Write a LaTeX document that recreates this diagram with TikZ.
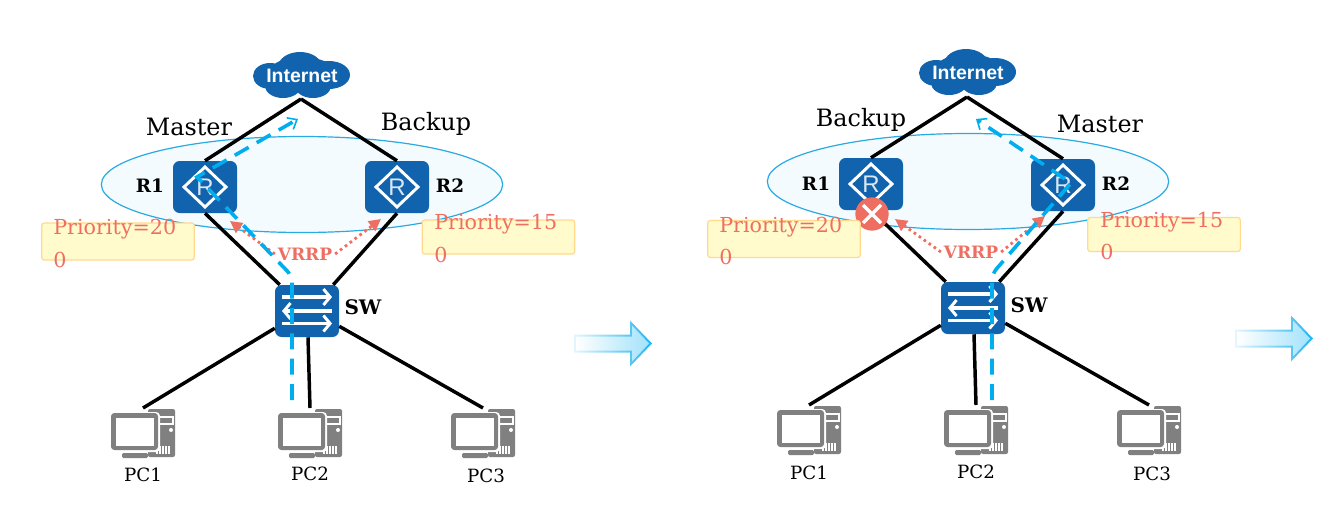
\documentclass[tikz,border=0pt]{standalone}
\usepackage{fontspec}
\setmainfont{DejaVu Serif}
\newfontfamily\iconfont{Liberation Sans}
\usepackage{tikz}
\usetikzlibrary{arrows.meta,positioning,calc,shapes.geometric}
\definecolor{netblue}{HTML}{1063AC}
\definecolor{flowblue}{HTML}{00AEEF}
\definecolor{ringblue}{HTML}{29ABE2}
\definecolor{ringfill}{HTML}{F3FBFF}
\definecolor{salmon}{HTML}{EE6F62}
\definecolor{prioyellow}{HTML}{FFFBCC}
\definecolor{prioedge}{HTML}{FFD98C}
\definecolor{pcgray}{HTML}{808080}
\definecolor{arrowedge}{HTML}{22B5F0}
\definecolor{arrowfill}{HTML}{A4E2FB}
\tikzset{
    cloudicon/.pic={
        \fill[netblue] (-32,1) ellipse [x radius=17,y radius=13];
        \fill[netblue] (-2,-8) ellipse [x radius=22,y radius=15];
        \fill[netblue] (27,0) ellipse [x radius=21,y radius=14];
        \fill[netblue] (-19,11) ellipse [x radius=18,y radius=12];
        \fill[netblue] (11,11) ellipse [x radius=18,y radius=12];
        \fill[netblue] (0,0) ellipse [x radius=35,y radius=18];
    },
    routericon/.pic={
        \draw[white,line width=2.2pt] (-21,0) -- (0,-20) -- (21,0) -- (0,20) -- cycle;
        \node[text=white!85!netblue,font=\iconfont\fontsize{18}{18}\selectfont,inner sep=0pt] at (0,0) {R};
    },
    switchicon/.pic={
        \draw[swarrow] (-25,-14) -- (25,-14);
        \draw[swarrow] (25,0) -- (-25,0);
        \draw[swarrow] (-25,12.5) -- (25,12.5);
    },
    pcicon/.pic={
        \fill[pcgray,rounded corners=1.5pt] (5,-24) rectangle (32,24);
        \fill[pcgray,rounded corners=1pt] (-21,20) rectangle (5,25);
        \draw[white,line width=0.9pt] (16,-16) rectangle (30,-9);
        \fill[white] (28,-3) circle (2);
        \foreach \i in {14,17,20,23,26} {\draw[white,line width=0.8pt] (\i,13) -- (\i,21);}
        \fill[white,rounded corners=3pt] (-32,-21) rectangle (17,19);
        \fill[pcgray,rounded corners=2.5pt] (-32,-20) rectangle (15,17);
        \fill[white] (-27,-15) rectangle (11,13);
    },
    bigarrow/.pic={
        \shade[left color=arrowedge!12,right color=arrowedge] (0,-9) -- (56,-9) -- (56,-23) -- (78,0) -- (56,23) -- (56,9) -- (0,9) -- cycle;
        \shade[left color=white,right color=arrowfill] (2,-7) -- (58,-7) -- (58,-18) -- (75,0) -- (58,18) -- (58,7) -- (2,7) -- cycle;
    },
    swarrow/.style={white,line width=2.4pt,-{Straight Barb[length=5pt,width=12pt,line width=2.2pt]}}
}
\begin{document}
\begin{tikzpicture}[
    x=0.75pt,y=-0.75pt,
    ring/.style={ellipse,draw=ringblue,fill=ringfill,line width=0.9pt,minimum width=301pt,minimum height=72pt,inner sep=0pt},
    device/.style={fill=netblue,rounded corners=5pt,minimum width=48pt,minimum height=39pt,inner sep=0pt},
    cloudtext/.style={text=white,font=\iconfont\bfseries\fontsize{14.6}{14.6}\selectfont,inner sep=0pt},
    rolelabel/.style={font=\fontsize{17.9}{17.9}\selectfont,inner sep=0pt},
    devlabel/.style={font=\bfseries\fontsize{13.8}{13.8}\selectfont,inner sep=0pt},
    pclabel/.style={font=\fontsize{13.7}{13.7}\selectfont,inner sep=0pt},
    priobox/.style={fill=prioyellow,draw=prioedge,line width=0.9pt,rounded corners=2pt,minimum width=114.5pt,inner sep=0pt},
    priotext/.style={text=salmon,align=left,anchor=west,inner sep=0pt,font=\fontsize{15.5}{24.7}\selectfont},
    vrrptext/.style={text=salmon,font=\bfseries\fontsize{12.8}{12.8}\selectfont,inner sep=2pt},
    link/.style={line width=2.6pt,black},
    vrrpline/.style={salmon,line width=2.1pt,dash pattern=on 2pt off 2.6pt,-{Triangle[length=9pt,width=9pt]}},
    flowline/.style={flowblue,line width=2.7pt,dash pattern=on 12pt off 7pt,-{Straight Barb[length=6pt,width=10pt,line width=1.2pt]}}
]
\useasboundingbox (0,0) rectangle (1326,517);
\node[ring] (ringA) at (302,184.5) {};
\node[ring] (ringB) at (968,181.5) {};

\pic at (302,75) {cloudicon};
\node[cloudtext] (inetA) at (302,76) {Internet};
\coordinate (apexA) at (301,99);
\node[device] (R1a) at (205,187) {};
\node[device] (R2a) at (397,187) {};
\node[device] (SWa) at (307,311) {};
\pic at (R1a) {routericon};
\pic at (R2a) {routericon};
\pic at (SWa) {switchicon};
\pic (pc1a) at (143,433) {pcicon};
\pic (pc2a) at (310,433) {pcicon};
\pic (pc3a) at (483,433) {pcicon};
\coordinate (pcA1) at (143,408);
\coordinate (pcA2) at (310,408);
\coordinate (pcA3) at (483,408);

\draw[link] (apexA) -- (R1a.north);
\draw[link] (apexA) -- (R2a.north);
\draw[link] (R1a.south) -- ($(SWa.north west)+(5,0)$);
\draw[link] (R2a.south) -- ($(SWa.north east)+(-6,0)$);
\draw[link] ($(SWa.south west)+(0,-9)$) -- (pcA1);
\draw[link] ($(SWa.south)+(1,0)$) -- (pcA2);
\draw[link] ($(SWa.south east)+(0,-11)$) -- (pcA3);

\node[rolelabel] (masterA) at (189,127) {Master};
\node[rolelabel] (backupA) at (426,124) {Backup};
\node[devlabel] (nameR1a) at (150,186) {R1};
\node[devlabel] (nameR2a) at (450,186) {R2};
\node[devlabel,font=\bfseries\fontsize{15}{15}\selectfont] (nameSWa) at (363,307) {SW};
\node[pclabel] (namePC1a) at (143,475) {PC1};
\node[pclabel] (namePC2a) at (310,474) {PC2};
\node[pclabel] (namePC3a) at (486,476) {PC3};

\node[priobox,minimum height=27.7pt] (prioAa) at (118,241.5) {};
\node[priobox,minimum height=25.5pt] (prioAb) at (498.5,237) {};
\node[priotext] at (53,243.5) {Priority=20\\0};
\node[priotext] at (434,238.5) {Priority=15\\0};

\node[vrrptext] (vrrpA) at (305,254) {VRRP};
\coordinate (hitA1) at (230,221);
\coordinate (hitA2) at (381,219);
\draw[vrrpline] (vrrpA.west) -- (hitA1);
\draw[vrrpline] (vrrpA.east) -- (hitA2);

\coordinate (flowA1) at (292,400);
\coordinate (flowA2) at (292,276);
\coordinate (flowA3) at (197,177);
\coordinate (flowA4) at (298,119);
\draw[flowline,rounded corners=5pt] (flowA1) -- (flowA2) [sharp corners] -- (flowA3) -- (flowA4);

\pic at (574,343.5) {bigarrow};

\pic at (968,72) {cloudicon};
\node[cloudtext] (inetB) at (968,73) {Internet};
\coordinate (apexB) at (967,97);
\node[device] (R1b) at (871,184) {};
\node[device] (R2b) at (1063,185) {};
\node[device] (SWb) at (973,308) {};
\pic at (R1b) {routericon};
\pic at (R2b) {routericon};
\pic at (SWb) {switchicon};
\pic (pc1b) at (809,430) {pcicon};
\pic (pc2b) at (976,430) {pcicon};
\pic (pc3b) at (1149,430) {pcicon};
\coordinate (pcB1) at (809,405);
\coordinate (pcB2) at (976,405);
\coordinate (pcB3) at (1149,405);

\draw[link] (apexB) -- (R1b.north);
\draw[link] (apexB) -- (R2b.north);
\draw[link] (R1b.south) -- ($(SWb.north west)+(5,0)$);
\draw[link] (R2b.south) -- ($(SWb.north east)+(-6,0)$);
\draw[link] ($(SWb.south west)+(0,-9)$) -- (pcB1);
\draw[link] ($(SWb.south)+(1,0)$) -- (pcB2);
\draw[link] ($(SWb.south east)+(0,-11)$) -- (pcB3);

\node[circle,fill=salmon,minimum size=25pt,inner sep=0pt] (failR1) at (872,214) {};
\draw[white,line width=2.6pt] (failR1) +(-9,-9) -- +(9,9) (failR1) +(-9,9) -- +(9,-9);

\node[rolelabel] (backupB) at (861,120) {Backup};
\node[rolelabel] (masterB) at (1100,124) {Master};
\node[devlabel] (nameR1b) at (816,184) {R1};
\node[devlabel] (nameR2b) at (1116,184) {R2};
\node[devlabel,font=\bfseries\fontsize{15}{15}\selectfont] (nameSWb) at (1029,305) {SW};
\node[pclabel] (namePC1b) at (809,473) {PC1};
\node[pclabel] (namePC2b) at (976,472) {PC2};
\node[pclabel] (namePC3b) at (1152,474) {PC3};

\node[priobox,minimum height=27.7pt] (prioBa) at (784,239) {};
\node[priobox,minimum height=25.5pt] (prioBb) at (1164,234.5) {};
\node[priotext] at (719,241) {Priority=20\\0};
\node[priotext] at (1100,236) {Priority=15\\0};

\node[vrrptext] (vrrpB) at (971,252) {VRRP};
\coordinate (hitB1) at (895,219);
\coordinate (hitB2) at (1045,216);
\draw[vrrpline] (vrrpB.west) -- (hitB1);
\draw[vrrpline] (vrrpB.east) -- (hitB2);

\coordinate (flowB1) at (992,400);
\coordinate (flowB2) at (992,274);
\coordinate (flowB3) at (1071,183);
\coordinate (flowB4) at (976,119);
\draw[flowline,rounded corners=5pt] (flowB1) -- (flowB2) [sharp corners] -- (flowB3) -- (flowB4);

\pic at (1235,338.5) {bigarrow};
\end{tikzpicture}
\end{document}
